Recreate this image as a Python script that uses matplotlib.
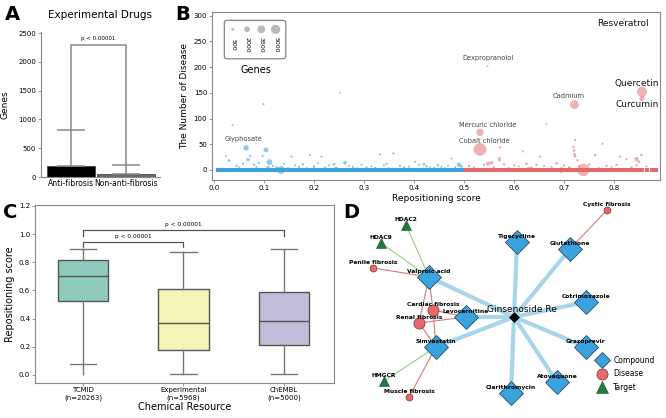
import numpy as np
import matplotlib
matplotlib.use("Agg")
import matplotlib.pyplot as plt
from matplotlib.lines import Line2D
from matplotlib.patches import FancyBboxPatch

W, H = 666, 418

# ---------------- data ----------------
# panel A
a_groups = ["Anti-fibrosis", "Non-anti-fibrosis"]
a_means = [195, 55]
a_err_top = [825, 205]
a_pval = "p < 0.00001"

# panel B : scattered compounds (score, diseases, genes)
b_blue_x = [0.064, 0.104, 0.111, 0.134, 0.037, 0.099, 0.252, 0.024, 0.072, 0.097,
            0.155, 0.192, 0.215, 0.262, 0.332, 0.359, 0.365, 0.402, 0.490, 0.475,
            0.030, 0.045, 0.050, 0.058, 0.080, 0.085, 0.090, 0.118, 0.125, 0.140,
            0.148, 0.162, 0.170, 0.178, 0.185, 0.200, 0.208, 0.222, 0.230, 0.240,
            0.245, 0.270, 0.278, 0.285, 0.295, 0.305, 0.315, 0.322, 0.340, 0.350,
            0.372, 0.380, 0.390, 0.410, 0.418, 0.425, 0.432, 0.440, 0.448, 0.455,
            0.462, 0.468, 0.482, 0.495, 0.068, 0.108, 0.200, 0.243, 0.345, 0.420]
b_blue_y = [43, 39, 15, 0, 87, 128, 150, 27, 27, 27,
            26, 29, 26, 14, 30, 32, 1, 16, 10, 22,
            18, 8, 5, 12, 10, 6, 14, 8, 5, 12,
            4, 9, 6, 11, 3, 7, 13, 5, 9, 11,
            4, 8, 6, 3, 10, 5, 7, 4, 9, 3,
            8, 5, 6, 10, 3, 7, 5, 4, 9, 6,
            3, 8, 5, 7, 20, 4, 1, 2, 12, 11]
b_blue_g = [1400, 1100, 1600, 3100, 120, 150, 120, 150, 200, 180,
            150, 150, 150, 600, 180, 180, 500, 150, 900, 150,
            300, 200, 150, 200, 250, 200, 150, 200, 250, 150,
            200, 150, 200, 150, 250, 200, 150, 200, 150, 300,
            200, 150, 200, 250, 150, 200, 150, 200, 150, 200,
            150, 200, 150, 200, 150, 200, 150, 200, 250, 150,
            200, 150, 200, 300, 500, 700, 800, 600, 200, 300]
b_red_x = [0.856, 0.856, 0.721, 0.532, 0.532, 0.547, 0.820, 0.665, 0.777, 0.572,
           0.618, 0.739, 0.695, 0.571, 0.571, 0.722, 0.719, 0.720, 0.721, 0.722,
           0.727, 0.762, 0.812, 0.825, 0.855, 0.845, 0.850, 0.652, 0.510, 0.520,
           0.540, 0.555, 0.560, 0.580, 0.590, 0.600, 0.610, 0.625, 0.635, 0.645,
           0.660, 0.675, 0.685, 0.700, 0.710, 0.730, 0.750, 0.770, 0.785, 0.795,
           0.805, 0.835, 0.845, 0.865, 0.630, 0.760, 0.845, 0.712, 0.548, 0.790]
b_red_y = [152, 139, 127, 73, 40, 202, 293, 89, 51, 44,
           36, 0, 0, 23, 19, 58, 45, 38, 31, 27,
           19, 29, 26, 21, 29, 21, 16, 26, 8, 5,
           10, 14, 6, 11, 4, 9, 7, 12, 5, 10,
           8, 6, 13, 9, 5, 7, 11, 4, 8, 6,
           10, 5, 9, 7, 2, 0, 0, 3, 12, 1]
b_red_g = [5200, 1300, 3700, 2600, 8300, 120, 120, 120, 150, 200,
           150, 8000, 1500, 300, 300, 200, 200, 300, 250, 300,
           250, 250, 200, 200, 250, 800, 300, 200, 200, 150,
           250, 600, 200, 250, 150, 200, 150, 300, 200, 250,
           200, 150, 300, 200, 150, 200, 250, 150, 200, 150,
           200, 250, 200, 150, 900, 700, 600, 500, 800, 400]
# compounds with zero associated diseases (dense row)
b_blue_zero = [0.008, 0.015, 0.021, 0.028, 0.034, 0.041, 0.047, 0.054, 0.061, 0.067,
               0.074, 0.080, 0.087, 0.093, 0.100, 0.107, 0.113, 0.120, 0.126, 0.133,
               0.140, 0.146, 0.153, 0.159, 0.166, 0.172, 0.179, 0.186, 0.192, 0.199,
               0.205, 0.212, 0.218, 0.225, 0.232, 0.238, 0.245, 0.251, 0.258, 0.264,
               0.271, 0.278, 0.284, 0.291, 0.297, 0.304, 0.310, 0.317, 0.324, 0.330,
               0.337, 0.343, 0.350, 0.356, 0.363, 0.370, 0.376, 0.383, 0.389, 0.396,
               0.402, 0.409, 0.416, 0.422, 0.429, 0.435, 0.442, 0.448, 0.455, 0.462,
               0.468, 0.475, 0.481, 0.488, 0.494, 0.499]
b_red_zero = [0.503, 0.509, 0.516, 0.522, 0.529, 0.535, 0.542, 0.548, 0.555, 0.562,
              0.568, 0.575, 0.581, 0.588, 0.594, 0.601, 0.608, 0.614, 0.621, 0.627,
              0.634, 0.640, 0.647, 0.654, 0.660, 0.667, 0.673, 0.680, 0.686, 0.693,
              0.700, 0.706, 0.713, 0.719, 0.726, 0.732, 0.739, 0.746, 0.752, 0.759,
              0.765, 0.772, 0.778, 0.785, 0.792, 0.798, 0.805, 0.811, 0.818, 0.824,
              0.831, 0.838, 0.844, 0.851, 0.856, 0.866, 0.876, 0.884]
b_legend_genes = [500, 2000, 3500, 5000]
# labelled compounds: name, text x, text y, big font
b_labels = [("Resveratrol", 0.818, 284, True), ("Dexpropranolol", 0.548, 218, False),
            ("Quercetin", 0.846, 169, True), ("Curcumin", 0.846, 128, True),
            ("Cadmium", 0.710, 143, False), ("Mercuric chloride", 0.547, 88, False),
            ("Cobalt chloride", 0.540, 56, False), ("Glyphosate", 0.059, 60, False)]

# panel C
c_labels = ["TCMID\n(n=20263)", "Experimental\n(n=5968)", "ChEMBL\n(n=5000)"]
c_min = [0.0, 0.005, 0.005]
c_whislo = [0.078, 0.005, 0.005]
c_q1 = [0.525, 0.175, 0.21]
c_med = [0.70, 0.367, 0.386]
c_q3 = [0.817, 0.608, 0.589]
c_whishi = [0.892, 0.876, 0.892]
c_colors = ["#8ecbbd", "#f5f3b8", "#c1bdd8"]

# panel D network (layout in px)
d_nodes = {
    "Ginsenoside Re": (514, 317, "center"),
    "Tigecycline": (517, 242, "compound"),
    "Glutathione": (570, 249, "compound"),
    "Cotrimoxazole": (586, 302, "compound"),
    "Grazoprevir": (586, 347, "compound"),
    "Atovaquone": (557, 382, "compound"),
    "Clarithromycin": (511, 393, "compound"),
    "Simvastatin": (436, 347, "compound"),
    "Levocarnitine": (466, 317, "compound"),
    "Valproic acid": (429, 277, "compound"),
    "Cardiac fibrosis": (433, 310, "disease_big"),
    "Renal fibrosis": (419, 323, "disease_big"),
    "Penile fibrosis": (373, 268, "disease"),
    "Cystic fibrosis": (607, 210, "disease"),
    "Muscle fibrosis": (409, 397, "disease"),
    "HDAC2": (406, 225, "target"),
    "HDAC9": (381, 243, "target"),
    "HMGCR": (384, 381, "target"),
}
d_edges_drug = ["Tigecycline", "Glutathione", "Cotrimoxazole", "Grazoprevir", "Atovaquone",
                "Clarithromycin", "Simvastatin", "Levocarnitine", "Valproic acid"]
d_edges_disease = [("Glutathione", "Cystic fibrosis"), ("Valproic acid", "Penile fibrosis"),
                   ("Valproic acid", "Cardiac fibrosis"), ("Valproic acid", "Renal fibrosis"),
                   ("Levocarnitine", "Cardiac fibrosis"), ("Levocarnitine", "Renal fibrosis"),
                   ("Simvastatin", "Cardiac fibrosis"), ("Simvastatin", "Renal fibrosis"),
                   ("Simvastatin", "Muscle fibrosis")]
d_edges_target = [("Valproic acid", "HDAC2"), ("Valproic acid", "HDAC9"), ("Simvastatin", "HMGCR")]


def box(x0, y0, x1, y1):
    return [x0 / W, 1 - y1 / H, (x1 - x0) / W, (y1 - y0) / H]


plt.rcParams['font.family'] = ['DejaVu Sans']
fig = plt.figure(figsize=(W / 100, H / 100), dpi=100)
spine_c = "#888888"

# ---------------- A ----------------
axA = fig.add_axes(box(41, 32, 160, 177))
xa = np.arange(len(a_groups))
axA.bar(xa, a_means, width=[0.88, 1.05], color=["black", "#6a6a6a"], edgecolor="#444444", lw=0.6)
axA.errorbar(xa, a_means, yerr=[[0, 0], np.array(a_err_top) - np.array(a_means)], fmt="none",
             ecolor="#8a8a8a", elinewidth=1.1, capsize=10, capthick=1.1)
axA.plot([0, 0, 1, 1], [a_err_top[0], 2300, 2300, a_err_top[1]], color="#8a8a8a", lw=1.1)
axA.text(0.5, 2400, a_pval, ha="center", va="center", fontsize=4)
axA.set_xlim(-0.55, 1.62)
axA.set_ylim(0, 2520)
axA.set_yticks([0, 500, 1000, 1500, 2000, 2500])
axA.set_xticks(xa, a_groups)
axA.set_ylabel("Genes", fontsize=6.5, labelpad=6)
axA.set_title("Experimental Drugs", fontsize=7.5, pad=10)
for s in ["top", "right"]:
    axA.spines[s].set_visible(False)
for s in ["left", "bottom"]:
    axA.spines[s].set_color(spine_c)
axA.tick_params(labelsize=5, length=2, width=0.6, color=spine_c, pad=1.5)
axA.tick_params(axis="x", labelsize=5.5, length=0)

# ---------------- B ----------------
axB = fig.add_axes(box(212, 12, 660, 180))
blue_c, red_c = "#3aa3da", "#e4676b"
axB.scatter(b_blue_zero, np.zeros(len(b_blue_zero)), s=5.5, marker="s", color=blue_c, lw=0)
axB.scatter(b_red_zero, np.zeros(len(b_red_zero)), s=5.5, marker="s", color=red_c, lw=0)
axB.scatter(b_blue_x, b_blue_y, s=np.array(b_blue_g) * 0.009, color=blue_c, alpha=0.55, lw=0.3,
            edgecolor=blue_c)
axB.scatter(b_red_x, b_red_y, s=np.array(b_red_g) * 0.009, color=red_c, alpha=0.5, lw=0.3,
            edgecolor=red_c)
for name, tx, ty, big in b_labels:
    axB.text(tx, ty, name, ha="center", va="center", fontsize=6.5 if big else 4.8,
             color="#111111" if big else "#444444")
axB.set_xlim(-0.004, 0.892)
axB.set_ylim(-19.5, 307)
axB.set_xticks(np.arange(0, 0.81, 0.1))
axB.set_yticks(np.arange(0, 301, 50))
axB.set_xlabel("Repositioning score", fontsize=6.5, labelpad=2)
axB.set_ylabel("The Number of Disease", fontsize=6.5, labelpad=3)
for s in axB.spines.values():
    s.set_color(spine_c)
axB.tick_params(labelsize=5, length=2, width=0.6, color=spine_c, pad=1.5)

# size legend
ins = axB.inset_axes([0.0246, 0.714, 0.143, 0.244])
ins.set_xlim(-0.68, 3.8)
ins.set_ylim(0, 1)
ins.axis("off")
ins.add_patch(FancyBboxPatch((0.02, 0.03), 0.96, 0.94, boxstyle="round,pad=0,rounding_size=0.06",
                             transform=ins.transAxes, fc="white", ec="#777777", lw=0.8))
lx = np.arange(len(b_legend_genes))
ins.scatter(lx, np.full(len(lx), 0.75), s=np.array(b_legend_genes) * 0.009, color="#aaaaaa",
            alpha=0.8, lw=0)
for xi, g in zip(lx, b_legend_genes):
    ins.text(xi, 0.38, str(g), rotation=270, ha="center", va="center", fontsize=4.5)
axB.text(0.098, 0.655, "Genes", transform=axB.transAxes, ha="center", va="center", fontsize=7)

# ---------------- C ----------------
axC = fig.add_axes(box(35, 205, 334, 383))
stats = []
for i in range(len(c_labels)):
    stats.append(dict(med=c_med[i], q1=c_q1[i], q3=c_q3[i], whislo=c_whislo[i],
                      whishi=c_whishi[i], fliers=[]))
pos = np.arange(len(c_labels))
bp = axC.bxp(stats, positions=pos, widths=0.5, patch_artist=True, showfliers=False,
             boxprops=dict(edgecolor="#555555", lw=1.0),
             medianprops=dict(color="#555555", lw=1.0),
             whiskerprops=dict(color="#777777", lw=1.0),
             capprops=dict(color="#777777", lw=1.0))
for patch, col in zip(bp["boxes"], c_colors):
    patch.set_facecolor(col)
for cap in bp["caps"]:
    xs = cap.get_xdata()
    mid = xs.mean()
    cap.set_xdata([mid - 0.13, mid + 0.13])
axC.vlines(pos, c_min, c_whislo, color="#777777", lw=1.0)
axC.plot([0, 0, 2, 2], [0.987, 1.03, 1.03, 0.987], color="#555555", lw=0.9)
axC.plot([0, 0, 1, 1], [0.907, 0.947, 0.947, 0.907], color="#555555", lw=0.9)
axC.text(1.0, 1.066, "p < 0.00001", ha="center", va="center", fontsize=4.2)
axC.text(0.5, 0.983, "p < 0.00001", ha="center", va="center", fontsize=4.2)
axC.set_xlim(-0.48, 2.5)
axC.set_ylim(-0.057, 1.207)
axC.set_yticks(np.arange(0, 1.21, 0.2))
axC.set_xticks(pos, c_labels)
axC.set_xlabel("Chemical Resource", fontsize=7, labelpad=1)
axC.set_ylabel("Repositioning score", fontsize=7, labelpad=3)
for s in axC.spines.values():
    s.set_color(spine_c)
axC.tick_params(labelsize=5, length=2, width=0.6, color=spine_c, pad=1.5)
axC.tick_params(axis="x", labelsize=5, pad=1)

# ---------------- D ----------------
axD = fig.add_axes(box(340, 200, 666, 418))
axD.set_xlim(340, 666)
axD.set_ylim(418, 200)
axD.axis("off")
cx, cy, _ = d_nodes["Ginsenoside Re"]
for n in d_edges_drug:
    x, y, _ = d_nodes[n]
    axD.plot([cx, x], [cy, y], color="#a7d6ea", lw=3, solid_capstyle="butt", zorder=1)
for a, b in d_edges_disease:
    axD.plot([d_nodes[a][0], d_nodes[b][0]], [d_nodes[a][1], d_nodes[b][1]],
             color="#d9797b", lw=0.8, zorder=1)
for a, b in d_edges_target:
    axD.plot([d_nodes[a][0], d_nodes[b][0]], [d_nodes[a][1], d_nodes[b][1]],
             color="#93cf80", lw=0.8, zorder=1)

node_style = {
    "compound": dict(marker="D", ms=12, mfc="#3aa2dc", mec="#2b4d68", mew=0.6),
    "disease_big": dict(marker="o", ms=8, mfc="#e8696d", mec="#7a3030", mew=0.5),
    "disease": dict(marker="o", ms=5, mfc="#e8696d", mec="#7a3030", mew=0.5),
    "target": dict(marker="^", ms=7, mfc="#1f7a3c", mec="#1f4a2a", mew=0.4),
    "center": dict(marker="D", ms=5, mfc="black", mec="black", mew=0.4),
}
for name, (x, y, kind) in d_nodes.items():
    axD.plot(x, y, ls="", zorder=3, **node_style[kind])
    if kind == "center":
        axD.text(x + 8, y - 7, name, fontsize=6.5, ha="center", va="center", zorder=4)
    else:
        axD.text(x, y - 5.5, name, fontsize=4.3, fontweight="bold", ha="center", va="center",
                 zorder=4)

handles = [Line2D([], [], ls="", marker="D", ms=8, mfc="#3aa2dc", mec="#2b4d68", mew=0.6),
           Line2D([], [], ls="", marker="o", ms=8, mfc="#e8696d", mec="#7a3030", mew=0.5),
           Line2D([], [], ls="", marker="^", ms=8, mfc="#1f7a3c", mec="#1f4a2a", mew=0.4)]
axD.legend(handles, ["Compound", "Disease", "Target"], loc="upper left",
           bbox_to_anchor=(0.77, 0.3), frameon=False, fontsize=5.5, handletextpad=0.5,
           labelspacing=0.6, borderaxespad=0)

# panel letters
for letter, lx_, ly_ in [("A", 12, 15), ("B", 183, 15), ("C", 10, 212), ("D", 351, 212)]:
    fig.text(lx_ / W, 1 - ly_ / H, letter, fontsize=14, fontweight="bold", ha="center", va="center")

fig.savefig("out.png", dpi=100)
